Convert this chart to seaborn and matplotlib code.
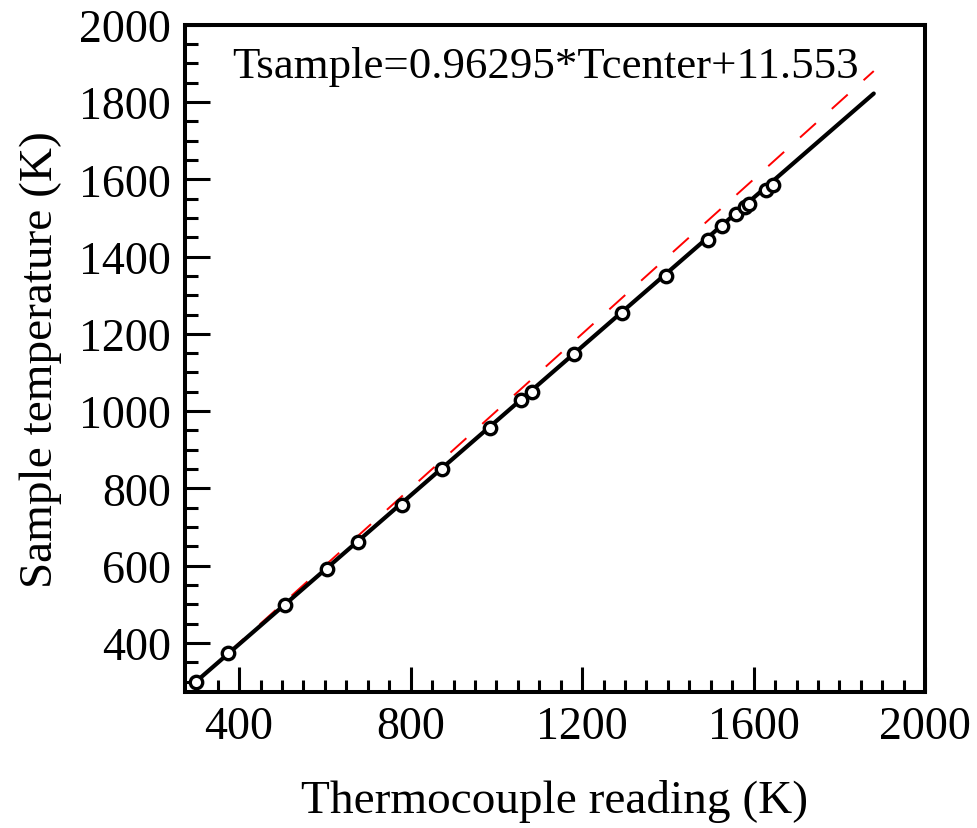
import matplotlib
matplotlib.use("Agg")
import matplotlib.pyplot as plt
from matplotlib.ticker import MultipleLocator
import numpy as np
import pandas as pd
import seaborn as sns

# Measured data (thermocouple reading vs. sample temperature, K)
thermocouple = [299, 375, 508, 605, 678, 779, 872, 985, 1057, 1084,
                1182, 1294, 1396, 1494, 1525, 1558, 1580, 1589, 1629, 1646]
sample_temp = [299, 373, 498, 592, 662, 756, 849, 956, 1028, 1049,
               1147, 1254, 1350, 1443, 1479, 1510, 1528, 1535, 1571, 1586]

# Linear fit coefficients and plotted range
fit_slope = 0.96295
fit_intercept = 11.553
line_range = [300, 1880]

x_ticks = [400, 800, 1200, 1600, 2000]
y_ticks = [400, 600, 800, 1000, 1200, 1400, 1600, 1800, 2000]

sns.set_style("ticks")
plt.rcParams["font.family"] = ["Liberation Serif", "DejaVu Serif"]
for k in ["text.color", "axes.labelcolor", "xtick.color", "ytick.color", "axes.edgecolor"]:
    plt.rcParams[k] = "black"

fig = plt.figure(figsize=(9.77, 8.29), dpi=100)
ax = fig.add_axes([0.189, 0.164, 0.758, 0.805])

lr = np.array(line_range, dtype=float)
ident = pd.DataFrame({"x": lr, "y": lr})
fit = pd.DataFrame({"x": lr, "y": fit_slope * lr + fit_intercept})
pts = pd.DataFrame({"x": thermocouple, "y": sample_temp})

sns.lineplot(data=ident, x="x", y="y", ax=ax, color="red", lw=1.4,
             linestyle=(0, (11, 11)), zorder=2)
sns.lineplot(data=fit, x="x", y="y", ax=ax, color="black", lw=3.0, zorder=3)
sns.scatterplot(data=pts, x="x", y="y", ax=ax, marker="o", s=80,
                facecolor="white", edgecolor="black", linewidth=2.4, zorder=4)

ax.set_xlim(273, 2000)
ax.set_ylim(273, 2000)
ax.set_xticks(x_ticks)
ax.set_yticks(y_ticks)
ax.xaxis.set_minor_locator(MultipleLocator(50))
ax.yaxis.set_minor_locator(MultipleLocator(50))
ax.tick_params(which="major", direction="in", length=18, width=2.2,
               labelsize=33, pad=10, top=False, right=False)
ax.tick_params(which="minor", direction="in", length=9, width=2.2,
               top=False, right=False)
for s in ax.spines.values():
    s.set_linewidth(2.9)
    s.set_color("black")

ax.set_xlabel("Thermocouple reading (K)", fontsize=34, labelpad=22)
ax.set_ylabel("Sample temperature (K)", fontsize=34, labelpad=12)

ax.text(0.064, 0.922, "Tsample=0.96295*Tcenter+11.553", transform=ax.transAxes,
        fontsize=32.3, ha="left", va="baseline")

fig.savefig("out.png", dpi=100)
